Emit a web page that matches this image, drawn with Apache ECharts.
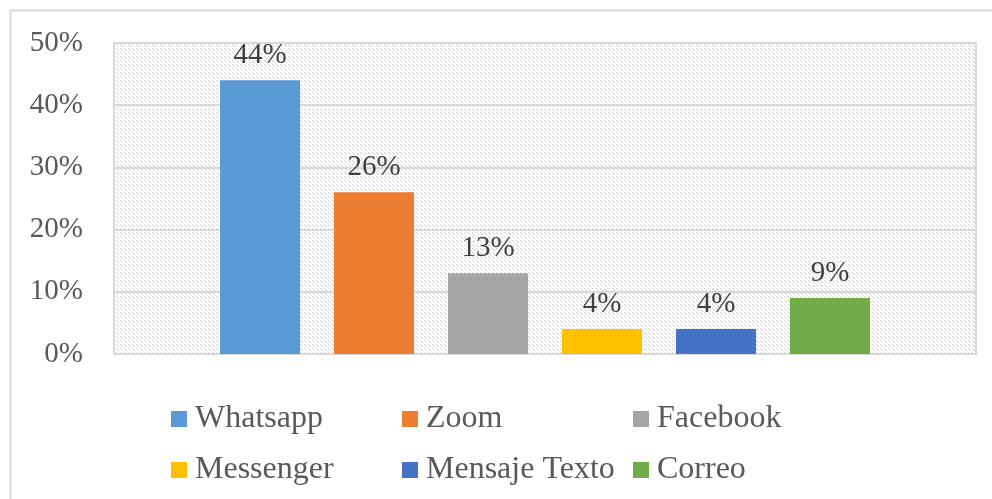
<!DOCTYPE html>
<html>
<head>
<meta charset="utf-8">
<script src="https://cdn.jsdelivr.net/npm/echarts@6/dist/echarts.min.js"></script>
<style>
  html, body { margin: 0; padding: 0; background: #fff; }
  #chart { width: 992px; height: 499px; }
</style>
</head>
<body>
<div id="chart"></div>
<script>
// data
const seriesNames = ['Whatsapp', 'Zoom', 'Facebook', 'Messenger', 'Mensaje Texto', 'Correo']
const seriesValues = [44, 26, 13, 4, 4, 9]
const seriesColors = ['#5B9BD5', '#ED7D31', '#A5A5A5', '#FFC000', '#4472C4', '#70AD47']
const yTicks = [0, 10, 20, 30, 40, 50]

const FONT = '"Liberation Serif", "Times New Roman", serif'

// hatched background tile for plot area
function makeHatch() {
  const c = document.createElement('canvas')
  c.width = 8
  c.height = 8
  const ctx = c.getContext('2d')
  ctx.fillStyle = '#ffffff'
  ctx.fillRect(0, 0, 8, 8)
  ctx.fillStyle = '#d2d2d2'
  for (let i = 0; i < 8; i++) {
    if (i % 4 === 3) continue
    ctx.fillRect(i, i, 1, 1)
    ctx.fillRect((i + 4) % 8, i, 1, 1)
  }
  return c
}

const chart = echarts.init(document.getElementById('chart'), null, { renderer: 'canvas' })

const series = seriesNames.map((name, i) => ({
  name: name,
  type: 'bar',
  data: [seriesValues[i]],
  barWidth: 80,
  barGap: '42.5%',
  itemStyle: { color: seriesColors[i] },
  label: {
    show: true,
    position: 'top',
    distance: 10,
    formatter: '{c}%',
    fontFamily: FONT,
    fontSize: 29,
    color: '#404040'
  }
}))

// one legend per slot so the columns line up like the original
const legendLeft = [171, 402, 633, 171, 402, 633]
const legendTop = [403, 403, 403, 454, 454, 454]
const legends = seriesNames.map((name, i) => ({
  data: [name],
  left: legendLeft[i],
  top: legendTop[i],
  padding: 0,
  itemWidth: 16,
  itemHeight: 16,
  icon: 'rect',
  textStyle: {
    fontFamily: FONT,
    fontSize: 32,
    color: '#595959',
    padding: [0, 0, 0, 3]
  }
}))

chart.setOption({
  animation: false,
  backgroundColor: '#ffffff',
  graphic: [{
    type: 'rect',
    shape: { x: 10.5, y: 10.5, width: 1000, height: 500 },
    style: { fill: 'none', stroke: '#d9d9d9', lineWidth: 2 },
    z: 0
  }],
  grid: {
    left: 114,
    right: 16,
    top: 43,
    bottom: 145,
    show: true,
    backgroundColor: { image: makeHatch(), repeat: 'repeat' },
    borderColor: '#d9d9d9',
    borderWidth: 2
  },
  legend: legends,
  xAxis: {
    type: 'category',
    data: [''],
    axisLine: { show: true, lineStyle: { color: '#d9d9d9', width: 2 } },
    axisTick: { show: false },
    axisLabel: { show: false }
  },
  yAxis: {
    type: 'value',
    min: yTicks[0],
    max: yTicks[yTicks.length - 1],
    interval: 10,
    axisLine: { show: false },
    axisTick: { show: false },
    axisLabel: {
      formatter: '{value}%',
      fontFamily: FONT,
      fontSize: 29,
      color: '#595959',
      margin: 31
    },
    splitLine: { lineStyle: { color: '#d9d9d9', width: 2 } }
  },
  series: series
})
</script>
</body>
</html>
